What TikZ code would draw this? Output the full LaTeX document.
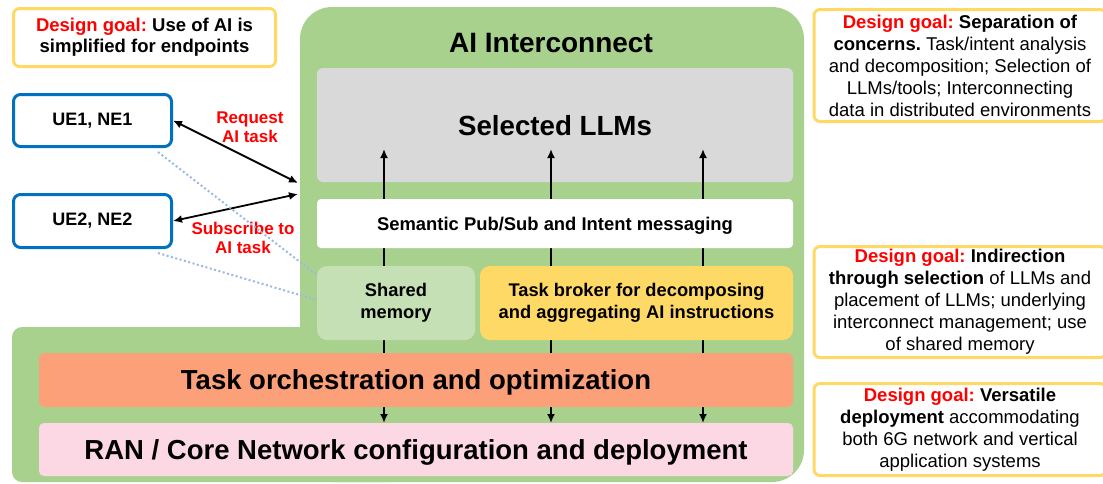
\documentclass[tikz,border=0pt]{standalone}
\usepackage{fontspec}
\setmainfont{Liberation Sans}
\usetikzlibrary{arrows.meta}
\frenchspacing

\definecolor{aigreen}{RGB}{169,209,142}
\definecolor{memgreen}{RGB}{197,224,180}
\definecolor{llmgray}{RGB}{217,217,217}
\definecolor{goalyellow}{RGB}{255,217,102}
\definecolor{orchsalmon}{RGB}{252,160,122}
\definecolor{ranpink}{RGB}{252,215,228}
\definecolor{ueblue}{RGB}{0,112,192}
\definecolor{dotblue}{RGB}{155,185,228}
\definecolor{goalred}{RGB}{255,0,0}

\newcommand\dgoal{\textcolor{goalred}{\bfseries Design goal:}}

\begin{document}
\begin{tikzpicture}[x=1pt, y=-1pt,
  layer/.style={rectangle, rounded corners=5pt, inner sep=0pt, text depth=0pt, align=center, font=\bfseries\fontsize{27.5}{30}\selectfont},
  part/.style={rectangle, rounded corners=10pt, inner sep=0pt, align=center, font=\bfseries\fontsize{18.3}{22}\selectfont},
  goal/.style={rectangle, draw=goalyellow, line width=3pt, rounded corners=6pt, inner sep=0pt, align=center, font=\fontsize{18.5}{22}\selectfont},
  ue/.style={rectangle, draw=ueblue, line width=3pt, rounded corners=7pt, minimum width=158pt, inner sep=0pt, font=\bfseries\fontsize{18}{22}\selectfont},
  lbl/.style={text=goalred, align=center, font=\bfseries\fontsize{17}{19}\selectfont},
  link/.style={{Latex[length=9pt,width=8pt]}-{Latex[length=9pt,width=8pt]}, line width=1.8pt},
  dotline/.style={dotblue, line width=2pt, dash pattern=on 2pt off 2.5pt}]
\useasboundingbox (0,0) rectangle (1103,483);

%background
\fill[aigreen, rounded corners=32pt] (300,7) rectangle (804,482);
\fill[aigreen, rounded corners=10pt] (12,327) rectangle (400,482);

%interconnect
\node[font=\bfseries\fontsize{28}{30}\selectfont] (title) at (551,43) {AI Interconnect};
\node[layer, fill=llmgray, rounded corners=6pt, minimum width=476pt, minimum height=114pt, font=\bfseries\fontsize{27.7}{30}\selectfont] (llm) at (555,125) {Selected LLMs};

\foreach \x [count=\i] in {384,551,703}{
  \coordinate (top\i) at (\x,149);
  \coordinate (bot\i) at (\x,423);
  \draw[{Latex[length=9pt,width=8pt]}-{Latex[length=9pt,width=8pt]}, line width=2pt] (bot\i) -- (top\i);
}

\node[part, fill=white, rounded corners=4pt, text depth=0pt, minimum width=476pt, minimum height=49pt, font=\bfseries\fontsize{18.4}{22}\selectfont] (sem) at (555,223.5) {Semantic Pub/Sub and Intent messaging};
\node[part, fill=memgreen, minimum width=158pt, minimum height=74pt] (mem) at (396,303) {Shared\\memory};
\node[part, fill=goalyellow, minimum width=313pt, minimum height=74pt] (broker) at (636.5,303) {Task broker for decomposing\\and aggregating AI instructions};

%network layers
\node[layer, fill=orchsalmon, minimum width=754pt, minimum height=54pt] (orch) at (416,380) {Task orchestration and optimization};
\node[layer, fill=ranpink, minimum width=754pt, minimum height=53pt] (ran) at (416,449.5) {RAN / Core Network configuration and deployment};

%endpoints
\node[ue, minimum height=52pt] (ue1) at (92.5,120.5) {UE1, NE1};
\node[ue, minimum height=53pt] (ue2) at (92.5,221) {UE2, NE2};
\coordinate (req) at (298,183);
\coordinate (sub) at (298,194);
\draw[link] (ue1.east) -- (req);
\draw[link] (ue2.east) -- (sub);
\node[lbl] (reqlbl) at (250,127) {Request\\AI task};
\node[lbl] (sublbl) at (243,238) {Subscribe to\\AI task};
\draw[dotline] ([xshift=-15pt,yshift=-4pt]ue1.south east) -- ([yshift=28pt]mem.west);
\draw[dotline] ([xshift=-15pt,yshift=-4pt]ue2.south east) -- ([yshift=3pt]mem.west);

%design goals
\node[goal, font=\bfseries\fontsize{18.5}{21}\selectfont, minimum width=262pt, minimum height=58pt] (goalue) at (144.5,37.5) {\dgoal{} Use of AI is\\simplified for endpoints};
\node[goal, minimum width=292pt, minimum height=112pt] (goalsep) at (960,65.5) {\dgoal{} \textbf{Separation of}\\\textbf{concerns.} Task/intent analysis\\and decomposition; Selection of\\LLMs/tools; Interconnecting\\data in distributed environments};
\node[goal, minimum width=292pt, minimum height=111pt] (goalind) at (960,302) {\dgoal{} \textbf{Indirection}\\\textbf{through selection} of LLMs and\\placement of LLMs; underlying\\interconnect management; use\\of shared memory};
\node[goal, minimum width=292pt, minimum height=92pt] (goalver) at (960,429.5) {\dgoal{} \textbf{Versatile}\\\textbf{deployment} accommodating\\both 6G network and vertical\\application systems};
\end{tikzpicture}
\end{document}
